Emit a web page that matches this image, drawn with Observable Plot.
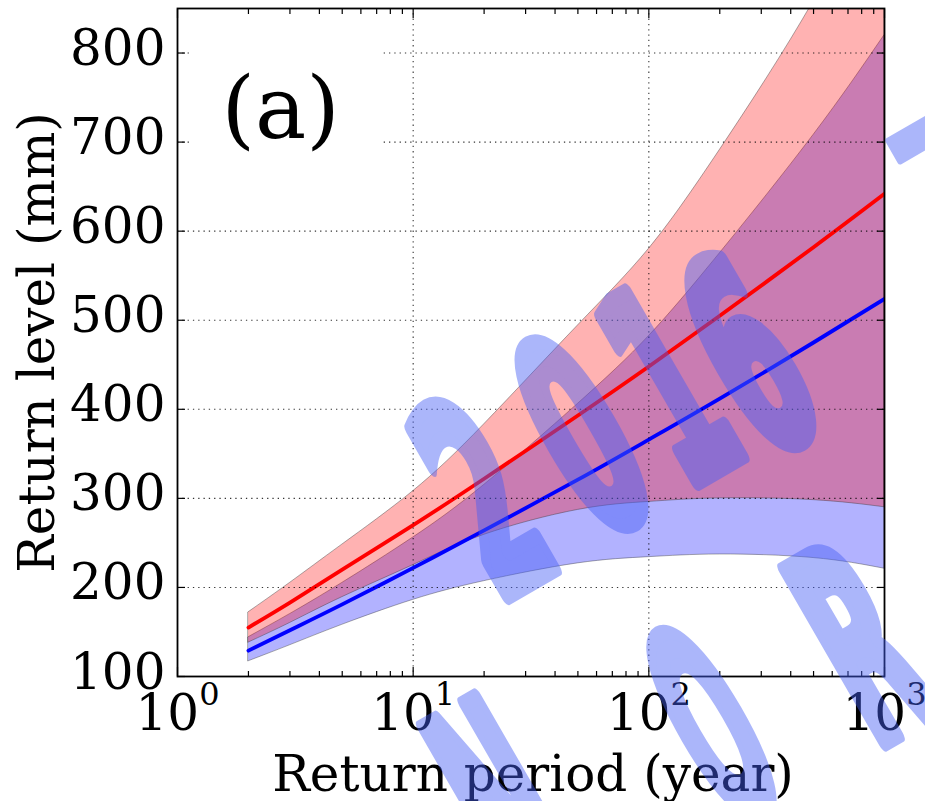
<!DOCTYPE html>
<html><head><meta charset="utf-8">
<script src="https://cdn.jsdelivr.net/npm/d3@7"></script>
<script src="https://cdn.jsdelivr.net/npm/@observablehq/plot@0.6"></script>
<style>
body{margin:0;background:#fff;}
#wrap{position:relative;width:925px;height:801px;overflow:hidden;background:#fff;}
#wm{position:absolute;left:0;top:0;pointer-events:none;}
</style></head><body><div id="wrap"></div>
<script>
// Return periods (years) and return levels (mm)
const periods  = [2, 3, 5, 10, 20, 50, 100, 200, 500, 1000];
const redMid   = [155, 183, 220, 270, 322, 393, 448, 505, 582, 642];
const redLow   = [138, 160, 189, 225, 259, 287, 296, 300, 298, 290];
const redHigh  = [172, 205, 248, 308, 383, 494, 580, 691, 858, 1015];
const blueMid  = [129, 152, 181, 222, 264, 321, 366, 412, 475, 524];
const blueLow  = [117, 135, 158, 186, 207, 227, 234, 237, 233, 221];
const blueHigh = [144, 170, 205, 256, 315, 406, 482, 575, 708, 820];

const majorX = [1, 10, 100, 1000];
const yTicks = [100, 200, 300, 400, 500, 600, 700, 800];
const yGrid  = [200, 300, 400, 500, 600, 700, 800];
const xGrid  = [10, 100];
const panelLabel = "(a)";
const xLabel = "Return period (year)";
const yLabel = "Return level (mm)";

const rows = periods.map((T, i) => ({
  T, redMid: redMid[i], redLow: redLow[i], redHigh: redHigh[i],
  blueMid: blueMid[i], blueLow: blueLow[i], blueHigh: blueHigh[i]
}));
const minorX = d3.scaleLog().domain([1, 1000]).ticks().filter(t => !majorX.includes(t));

const font = "'DejaVu Serif', serif";
const noText = () => "";
const edge = {stroke: "#333", strokeOpacity: 0.4, strokeWidth: 1, curve: "natural", clip: true};

const chart = Plot.plot({
  width: 925, height: 801,
  marginLeft: 177, marginRight: 41, marginTop: 8, marginBottom: 125,
  x: {type: "log", domain: [1, 1000]},
  y: {domain: [100, 850]},
  style: {fontFamily: font, background: "white", color: "black"},
  marks: [
    Plot.areaY(rows, {x: "T", y1: "blueLow", y2: "blueHigh", fill: "blue", fillOpacity: 0.3, ...edge}),
    Plot.areaY(rows, {x: "T", y1: "redLow", y2: "redHigh", fill: "red", fillOpacity: 0.3, ...edge}),
    Plot.line(rows, {x: "T", y: "redMid", stroke: "red", strokeWidth: 3.8, curve: "natural", clip: true}),
    Plot.line(rows, {x: "T", y: "blueMid", stroke: "blue", strokeWidth: 3.8, curve: "natural", clip: true}),
    Plot.gridY(yGrid, {stroke: "black", strokeOpacity: 0.8, strokeWidth: 1.1, strokeDasharray: "1.3,4"}),
    Plot.gridX(xGrid, {stroke: "black", strokeOpacity: 0.8, strokeWidth: 1.1, strokeDasharray: "1.3,4"}),
    Plot.frame({stroke: "black", strokeWidth: 1.8}),
    // tick labels
    Plot.axisY(yTicks, {anchor: "left", tickSize: 0, tickPadding: 12, fontSize: 50, dy: -4, label: null}),
    Plot.axisX(majorX, {anchor: "bottom", tickSize: 0, tickPadding: 18, fontSize: 50, label: null,
      tickFormat: d => String(Math.round(Math.log10(d)))}),
    // inward ticks
    Plot.axisY(yTicks, {anchor: "left", tickSize: 8, dx: 8, tickFormat: noText, label: null, strokeWidth: 1.2}),
    Plot.axisY(yTicks, {anchor: "right", tickSize: 8, dx: -8, tickFormat: noText, label: null, strokeWidth: 1.2}),
    Plot.axisX(majorX, {anchor: "bottom", tickSize: 9, dy: -9, tickFormat: noText, label: null, strokeWidth: 1.2}),
    Plot.axisX(minorX, {anchor: "bottom", tickSize: 5, dy: -5, tickFormat: noText, label: null, strokeWidth: 1.2}),
    Plot.axisX(majorX, {anchor: "top", tickSize: 9, dy: 9, tickFormat: noText, label: null, strokeWidth: 1.2}),
    Plot.axisX(minorX, {anchor: "top", tickSize: 5, dy: 5, tickFormat: noText, label: null, strokeWidth: 1.2}),
    // axis titles
    Plot.text([yLabel], {text: d => d, frameAnchor: "left", rotate: -90, textAnchor: "middle",
      lineAnchor: "bottom", dx: -124, fontSize: 50, fill: "black"}),
    Plot.text([xLabel], {text: d => d, frameAnchor: "bottom", textAnchor: "middle",
      lineAnchor: "bottom", dy: 114, dx: 2, fontSize: 50, fill: "black"}),
    // panel label
    Plot.text([panelLabel], {text: d => d, frameAnchor: "top-left", textAnchor: "start",
      lineAnchor: "bottom", dx: 44, dy: 129, fontSize: 86, fill: "black"})
  ]
});

const wrap = document.getElementById("wrap");
wrap.appendChild(chart);

// superscript exponents for log tick labels
chart.querySelectorAll('g[aria-label="x-axis tick label"] text').forEach(t => {
  const e = t.textContent;
  if (!e) return;
  t.textContent = "10";
  const s = document.createElementNS("http://www.w3.org/2000/svg", "tspan");
  s.setAttribute("dy", "-25");
  s.setAttribute("font-size", "32");
  s.textContent = e;
  t.appendChild(s);
});

// white box behind panel label
chart.querySelectorAll("text").forEach(t => {
  if (t.textContent !== panelLabel) return;
  const b = t.getBBox();
  const r = document.createElementNS("http://www.w3.org/2000/svg", "rect");
  r.setAttribute("x", b.x - 30);
  r.setAttribute("y", b.y - 20);
  r.setAttribute("width", b.width + 72);
  r.setAttribute("height", b.height + 30);
  r.setAttribute("fill", "white");
  const tr = t.getAttribute("transform");
  if (tr) r.setAttribute("transform", tr);
  t.parentNode.insertBefore(r, t);
});

// watermark overlay
const NS = "http://www.w3.org/2000/svg";
const wm = document.createElementNS(NS, "svg");
wm.setAttribute("id", "wm");
wm.setAttribute("width", 925);
wm.setAttribute("height", 801);
const wg = document.createElementNS(NS, "g");
wg.setAttribute("opacity", "0.45");
wm.appendChild(wg);
const wmGlyphs = [
  {ch: "2", cx: 482, cy: 497, sx: 1.0}, {ch: "0", cx: 582, cy: 435, sx: 1.0},
  {ch: "1", cx: 668, cy: 385, sx: 1.0}, {ch: "6", cx: 748, cy: 355, sx: 1.0},
  {ch: "N", cx: 500, cy: 800, sx: 0.9}, {ch: "O", cx: 712, cy: 725, sx: 0.75},
  {ch: "R", cx: 860, cy: 643, sx: 0.95}
];
wmGlyphs.forEach(g => {
  const t = document.createElementNS(NS, "text");
  t.setAttribute("transform", `translate(${g.cx},${g.cy}) rotate(-30) scale(${g.sx},2.45)`);
  t.setAttribute("text-anchor", "middle");
  t.setAttribute("dy", "0.36em");
  t.setAttribute("font-family", "DejaVu Sans");
  t.setAttribute("font-weight", "bold");
  t.setAttribute("font-size", "112");
  t.setAttribute("fill", "rgb(70,95,245)");
  t.setAttribute("stroke", "rgb(70,95,245)");
  t.setAttribute("stroke-width", "7");
  t.setAttribute("stroke-linejoin", "round");
  t.textContent = g.ch;
  wg.appendChild(t);
});
const dash = document.createElementNS(NS, "rect");
dash.setAttribute("x", -35); dash.setAttribute("y", -15);
dash.setAttribute("width", 70); dash.setAttribute("height", 30);
dash.setAttribute("rx", 3);
dash.setAttribute("transform", "translate(922,135) rotate(-30)");
dash.setAttribute("fill", "rgb(70,95,245)");
wg.appendChild(dash);
wrap.appendChild(wm);
</script>
</body></html>
